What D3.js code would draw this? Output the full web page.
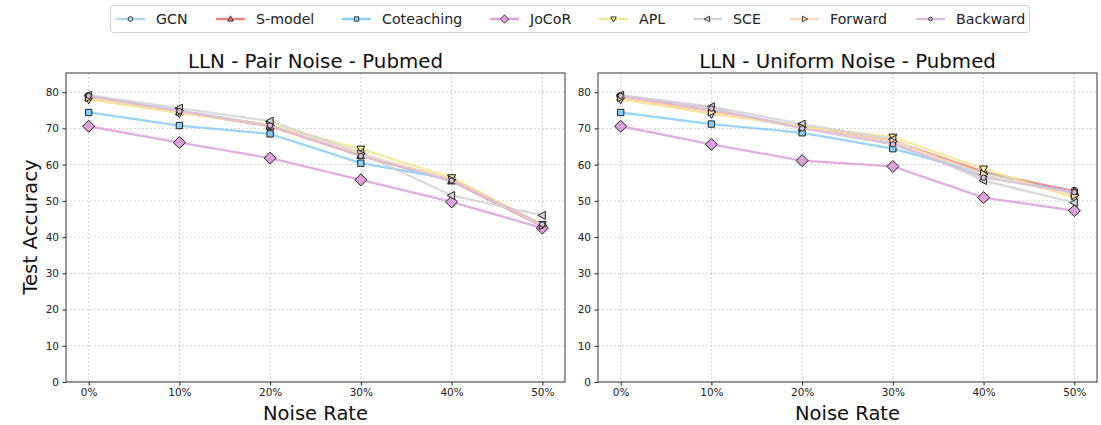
<!DOCTYPE html>
<html><head><meta charset="utf-8">
<script src="https://cdn.jsdelivr.net/npm/d3@7"></script>
<style>body{margin:0;background:#fff;font-family:"DejaVu Sans",sans-serif;}</style>
</head><body><svg id="c" width="1101" height="425"></svg>
<script>
const categories = ["0%","10%","20%","30%","40%","50%"];
const yTicks = [0,10,20,30,40,50,60,70,80];
const seriesNames = ["GCN","S-model","Coteaching","JoCoR","APL","SCE","Forward","Backward"];
const seriesColors = ["#add8e6","#f08080","#87cefa","#dda0dd","#f0e68c","#d3d3d3","#ffdab9","#d8bfd8"];
const seriesMarkers = ["circle","triangle","square","diamond","triangleDown","triangleLeft","triangleRight","circleSmall"];
const titles = ["LLN - Pair Noise - Pubmed","LLN - Uniform Noise - Pubmed"];
// Pair noise
const pairGCN        = [79.0, 75.0, 70.8, 63.0, 55.8, 43.2];
const pairSmodel     = [78.6, 74.6, 70.6, 62.5, 55.5, 43.0];
const pairCoteaching = [74.4, 70.8, 68.5, 60.4, 56.0, 43.2];
const pairJoCoR      = [70.6, 66.1, 61.8, 55.8, 49.7, 42.5];
const pairAPL        = [78.0, 74.2, 71.0, 64.3, 56.4, 43.5];
const pairSCE        = [79.2, 75.6, 72.0, 63.2, 51.5, 46.0];
const pairForward    = [78.5, 74.6, 70.8, 63.0, 55.8, 43.2];
const pairBackward   = [79.0, 74.8, 70.8, 62.4, 55.6, 43.5];
// Uniform noise
const uniGCN         = [79.0, 75.0, 70.5, 66.0, 57.0, 52.8];
const uniSmodel      = [78.6, 74.6, 70.4, 66.5, 58.0, 52.6];
const uniCoteaching  = [74.4, 71.2, 68.8, 64.4, 57.6, 52.0];
const uniJoCoR       = [70.6, 65.6, 61.1, 59.5, 50.9, 47.3];
const uniAPL         = [78.0, 74.0, 70.6, 67.6, 58.8, 50.8];
const uniSCE         = [79.2, 76.0, 71.2, 67.0, 55.6, 49.5];
const uniForward     = [78.5, 74.5, 70.2, 66.4, 57.4, 51.5];
const uniBackward    = [79.0, 75.5, 70.0, 65.6, 56.4, 52.4];

const panels = [
  [pairGCN,pairSmodel,pairCoteaching,pairJoCoR,pairAPL,pairSCE,pairForward,pairBackward],
  [uniGCN,uniSmodel,uniCoteaching,uniJoCoR,uniAPL,uniSCE,uniForward,uniBackward]
];

const svg = d3.select("#c");
const plotTop = 73, plotBottom = 382;
const lefts = [66, 598], width = 499;

function markerPath(type) {
  switch(type){
    case "circle": return d3.symbol(d3.symbolCircle, 36)();
    case "circleSmall": return d3.symbol(d3.symbolCircle, 22)();
    case "square": return d3.symbol(d3.symbolSquare, 40)();
    case "diamond": return `M0,${-6}L6,0L0,6L-6,0Z`;
    case "triangle": return `M0,-4.5L4,3L-4,3Z`;
    case "triangleDown": return `M0,4.5L4,-3L-4,-3Z`;
    case "triangleLeft": return `M-4.5,0L3,-4L3,4Z`;
    case "triangleRight": return `M4.5,0L-3,-4L-3,4Z`;
  }
}

panels.forEach((data, pi) => {
  const x0 = lefts[pi];
  const x = d3.scaleLinear().domain([-0.25, 5.25]).range([x0, x0 + width]);
  const y = d3.scaleLinear().domain([0, 85.3]).range([plotBottom, plotTop]);
  const g = svg.append("g");
  // grid
  g.selectAll(".gy").data(yTicks).enter().append("line")
    .attr("x1", x0).attr("x2", x0+width).attr("y1", d=>y(d)).attr("y2", d=>y(d))
    .attr("stroke", "#b0b0b0").attr("stroke-width", 0.7).attr("stroke-dasharray","2,2").attr("opacity",0.8);
  g.selectAll(".gx").data(categories).enter().append("line")
    .attr("x1", (d,i)=>x(i)).attr("x2", (d,i)=>x(i)).attr("y1", plotTop).attr("y2", plotBottom)
    .attr("stroke", "#b0b0b0").attr("stroke-width", 0.7).attr("stroke-dasharray","2,2").attr("opacity",0.8);
  // axes
  const yAxis = d3.axisLeft(y).tickValues(yTicks).tickSize(3.5).tickPadding(3.5);
  const gy = g.append("g").attr("transform", `translate(${x0},0)`).call(yAxis);
  const xAxis = d3.axisBottom(x).tickValues(d3.range(categories.length)).tickFormat(i=>categories[i]).tickSize(3.5).tickPadding(3.5);
  const gx = g.append("g").attr("transform", `translate(0,${plotBottom})`).call(xAxis);
  [gx, gy].forEach(a => {
    a.select(".domain").remove();
    a.selectAll("text").attr("font-family","DejaVu Sans").attr("font-size", 10.5).attr("fill","#222");
    a.selectAll("line").attr("stroke","#222");
  });
  // frame
  g.append("rect").attr("x", x0).attr("y", plotTop).attr("width", width).attr("height", plotBottom-plotTop)
    .attr("fill","none").attr("stroke","#222").attr("stroke-width",0.9);
  // lines
  const line = d3.line().x((d,i)=>x(i)).y(d=>y(d));
  data.forEach((vals, si) => {
    g.append("path").attr("d", line(vals)).attr("fill","none")
      .attr("stroke", seriesColors[si]).attr("stroke-width", 2.3).attr("opacity", 0.85);
    g.selectAll(null).data(vals).enter().append("path")
      .attr("d", markerPath(seriesMarkers[si]))
      .attr("transform", (d,i)=>`translate(${x(i)},${y(d)})`)
      .attr("fill", seriesColors[si]).attr("stroke","#222").attr("stroke-width",1);
  });
  // title & labels
  svg.append("text").attr("x", x0 + width/2).attr("y", 68).attr("text-anchor","middle")
    .attr("font-size", 19.8).attr("fill","#111").text(titles[pi]);
  svg.append("text").attr("x", x0 + width/2).attr("y", 420).attr("text-anchor","middle")
    .attr("font-size", 19.5).attr("fill","#111").text("Noise Rate");
});
svg.append("text").attr("transform","translate(37,227) rotate(-90)").attr("text-anchor","middle")
  .attr("font-size", 19.8).attr("fill","#111").text("Test Accuracy");

// legend
const lg = svg.append("g");
lg.append("rect").attr("x", 110.5).attr("y", 5.5).attr("width", 919).attr("height", 27).attr("rx", 3)
  .attr("fill","#fff").attr("stroke","#d0d0d0");
const legendX = [116, 216, 342, 490, 599, 693, 790, 916];
seriesNames.forEach((n, i) => {
  const lx = legendX[i], ly = 19;
  lg.append("line").attr("x1", lx).attr("x2", lx+29).attr("y1", ly).attr("y2", ly)
    .attr("stroke", seriesColors[i]).attr("stroke-width", 2.3);
  lg.append("path").attr("d", markerPath(seriesMarkers[i]))
    .attr("transform", `translate(${lx+14.5},${ly}) scale(0.7)`)
    .attr("fill", seriesColors[i]).attr("stroke","#222").attr("stroke-width",1.2);
  lg.append("text").attr("x", lx+40).attr("y", ly+5).attr("font-size", 14.2).attr("fill","#222").text(n);
});
</script></body></html>
